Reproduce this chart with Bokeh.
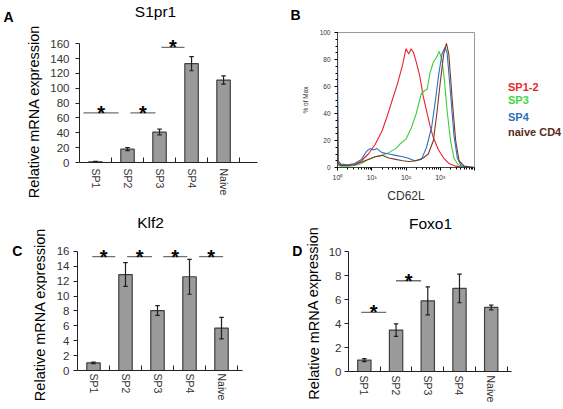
from bokeh.plotting import figure
from bokeh.models import Range1d, FixedTicker, Label, Legend, LegendItem
from bokeh.layouts import row, column
from bokeh.embed import file_html
from bokeh.resources import INLINE
from bokeh.core.properties import value

# ---------------- data ----------------
groups = ["SP1", "SP2", "SP3", "SP4", "Naive"]
group_pos = [0, 1, 2, 3, 4]
group_bounds = [0.5, 1.5, 2.5, 3.5, 4.5]

# Panel A : S1pr1
s1pr1_mean = [1.0, 17.9, 41.0, 133.0, 111.0]
s1pr1_err = [0.5, 2.0, 3.8, 9.5, 5.5]
s1pr1_ticks = [0, 20, 40, 60, 80, 100, 120, 140, 160]
s1pr1_sig_x0 = [-0.375, 1.09, 2.06]
s1pr1_sig_x1 = [0.72, 1.875, 2.78]
s1pr1_sig_y = [66.7, 66.7, 155.0]

# Panel C : Klf2
klf2_mean = [1.03, 12.9, 8.06, 12.6, 5.7]
klf2_err = [0.1, 1.6, 0.65, 2.35, 1.45]
klf2_ticks = [0, 2, 4, 6, 8, 10, 12, 14, 16]
klf2_sig_x0 = [-0.04, 1.05, 2.18, 3.3]
klf2_sig_x1 = [0.68, 1.83, 2.93, 4.05]
klf2_sig_y = [15.3, 15.3, 15.3, 15.3]

# Panel D : Foxo1
foxo1_mean = [0.95, 3.46, 5.9, 6.94, 5.35]
foxo1_err = [0.12, 0.52, 1.17, 1.2, 0.2]
foxo1_ticks = [0, 2, 4, 6, 8, 10]
foxo1_sig_x0 = [-0.1, 1.0]
foxo1_sig_x1 = [0.69, 1.79]
foxo1_sig_y = [4.93, 7.58]

# Panel B : CD62L histograms (log10 of CD62L, % of max)
red_log = [0.0, 0.02, 0.1, 0.3, 0.5, 0.7, 0.9, 1.1, 1.3, 1.45, 1.6, 1.75, 1.9, 2.0, 2.08, 2.15,
           2.22, 2.3, 2.4, 2.5, 2.6, 2.7, 2.8, 2.95, 3.1, 3.25, 3.45, 3.7, 4.0]
red_pct = [5, 3, 2, 1.5, 2, 5, 10, 17, 27, 38, 50, 62, 76, 88, 84, 88,
           85, 78, 68, 53, 42, 31, 22, 13, 7, 3, 1, 0, 0]
green_log = [0.0, 0.02, 0.1, 0.3, 0.5, 0.7, 0.9, 1.1, 1.3, 1.5, 1.7, 1.85, 2.0, 2.15, 2.3, 2.45,
             2.55, 2.62, 2.7, 2.8, 2.9, 2.97, 3.05, 3.12, 3.2, 3.3, 3.4, 3.52, 3.7, 4.0]
green_pct = [3, 1.5, 1, 1, 1.5, 3, 6, 8, 9, 11, 14, 18, 21, 29, 40, 55,
             57, 58, 70, 78, 82, 86, 80, 65, 42, 20, 7, 2, 0.5, 0]
blue_log = [0.0, 0.02, 0.1, 0.3, 0.5, 0.7, 0.85, 0.95, 1.05, 1.15, 1.3, 1.5, 1.7, 1.9, 2.05, 2.25,
            2.45, 2.6, 2.75, 2.85, 2.95, 3.05, 3.14, 3.2, 3.3, 3.4, 3.5, 3.62, 3.75, 4.0]
blue_pct = [92, 5, 2.5, 2, 3, 6, 12, 14, 13, 14, 11, 10, 9, 8, 7, 5,
            6, 15, 30, 48, 68, 84, 89, 85, 55, 24, 7, 1, 0.3, 0]
brown_log = [0.0, 0.02, 0.1, 0.3, 0.5, 0.7, 0.9, 1.1, 1.3, 1.5, 1.7, 1.9, 2.1, 2.3, 2.5, 2.65,
             2.8, 2.9, 3.0, 3.1, 3.18, 3.25, 3.35, 3.45, 3.55, 3.7, 4.0]
brown_pct = [45, 3, 1.5, 1.5, 2, 4, 6, 8, 9, 7, 6, 5, 4.5, 5, 7, 10,
             20, 40, 63, 84, 92, 84, 50, 20, 5, 1, 0]
hist_labels = ["SP1-2", "SP3", "SP4", "naive CD4"]
hist_ticks = [1, 10, 100, 1000, 10000]
hist_tick_labels = ["10\u2070", "10\u00b9", "10\u00b2", "10\u00b3", ""]
pct_ticks = [0, 20, 40, 60, 80, 100]

FONT = "Liberation Sans"
YLABEL = "Relative mRNA expression"


def text_fig(w, h):
    f = figure(width=w, height=h, x_range=Range1d(0, w), y_range=Range1d(0, h),
               output_backend="svg", toolbar_location=None,
               x_axis_location=None, y_axis_location=None,
               min_border=0, frame_align=False)
    f.grid.visible = False
    f.outline_line_color = None
    f.background_fill_color = "white"
    f.border_fill_color = "white"
    return f


def add_text(p, x, y, text, size, bold=False, angle=0.0, align="center", color="black"):
    p.add_layout(Label(x=x, y=y, text=text, text_font=FONT, text_font_size=size,
                       text_font_style="bold" if bold else "normal", angle=angle,
                       text_align=align, text_baseline="middle", text_color=color))


def bar_panel(w, h, borders, x_end, y_end, ticks, means, errs, sx0, sx1, sy,
              tick_standoff, xlab_standoff):
    l, r, t, b = borders
    p = figure(width=w, height=h, x_range=Range1d(-0.5, x_end), y_range=Range1d(0, y_end),
               output_backend="svg", toolbar_location=None, frame_align=False,
               min_border_left=l, min_border_right=r, min_border_top=t, min_border_bottom=b)
    p.outline_line_color = None
    p.grid.visible = False
    p.background_fill_color = "white"
    p.border_fill_color = "white"

    p.vbar(x=group_pos, top=means, width=0.42, bottom=0,
           fill_color="#9a9a9a", line_color="#404040", line_width=1.2)
    lo = [m - e for m, e in zip(means, errs)]
    hi = [m + e for m, e in zip(means, errs)]
    p.segment(x0=group_pos, y0=lo, x1=group_pos, y1=hi, line_color="#202020", line_width=1.2)
    cap = 0.07
    p.segment(x0=[x - cap for x in group_pos], y0=hi, x1=[x + cap for x in group_pos], y1=hi,
              line_color="#202020", line_width=1.2)
    p.segment(x0=[x - cap for x in group_pos], y0=lo, x1=[x + cap for x in group_pos], y1=lo,
              line_color="#202020", line_width=1.2)

    # significance bars and stars
    p.segment(x0=sx0, y0=sy, x1=sx1, y1=sy, line_color="#707070", line_width=1.3)
    mids = [(a + c) / 2 for a, c in zip(sx0, sx1)]
    p.text(x=mids, y=sy, text=["*"] * len(mids), text_font=value(FONT), text_font_style="bold",
           text_font_size="20px", text_align="center", text_baseline="middle",
           text_color="black")

    xa = p.xaxis[0]
    xa.ticker = FixedTicker(ticks=group_pos, minor_ticks=group_bounds)
    xa.major_label_overrides = {i: g for i, g in zip(group_pos, groups)}
    xa.major_tick_line_color = None
    xa.major_tick_in = 0
    xa.major_tick_out = 0
    xa.minor_tick_in = 5
    xa.minor_tick_out = 0
    xa.minor_tick_line_color = "#222222"
    xa.axis_line_color = "#222222"
    xa.major_label_orientation = "vertical"
    xa.major_label_standoff = xlab_standoff
    xa.major_label_text_font = FONT
    xa.major_label_text_font_size = "10.5px"
    xa.major_label_text_color = "#333333"

    ya = p.yaxis[0]
    ya.ticker = FixedTicker(ticks=ticks)
    ya.bounds = (ticks[0], ticks[-1])
    ya.major_tick_in = 0
    ya.major_tick_out = 4
    ya.minor_tick_line_color = None
    ya.axis_line_color = "#222222"
    ya.major_tick_line_color = "#222222"
    ya.major_label_standoff = tick_standoff
    ya.major_label_text_font = FONT
    ya.major_label_text_font_size = "11.5px"
    ya.major_label_text_color = "#333333"
    return p


# ---------------- panel A (x 0-280, y 0-200) ----------------
stripA = text_fig(45, 200)
add_text(stripA, 3, 184, "A", "14px", bold=True, align="left")
add_text(stripA, 33.3, 89, YLABEL, "14.5px", angle=1.5708)
headA = text_fig(235, 24)
add_text(headA, 110, 13, "S1pr1", "15.5px")
pA = bar_panel(235, 176, (34, 23, 8, 38), 5.06, 175, s1pr1_ticks, s1pr1_mean, s1pr1_err,
               s1pr1_sig_x0, s1pr1_sig_x1, s1pr1_sig_y, 6, 6)

# ---------------- panel C (x 0-280, y 200-408) ----------------
stripC = text_fig(47, 208)
add_text(stripC, 11.7, 157.7, "C", "14px", bold=True, align="left")
add_text(stripC, 39.3, 94, YLABEL, "14.5px", angle=1.5708)
headC = text_fig(233, 32)
add_text(headC, 103, 10, "Klf2", "15.5px")
pC = bar_panel(233, 176, (30, 38, 7, 38), 4.656, 17.61, klf2_ticks, klf2_mean, klf2_err,
               klf2_sig_x0, klf2_sig_x1, klf2_sig_y, 4, 3)

# ---------------- panel D (x 280-562, y 205-408) ----------------
stripD = text_fig(44, 203)
add_text(stripD, 11.7, 157.7, "D", "14px", bold=True, align="left")
add_text(stripD, 33, 95.5, YLABEL, "14.5px", angle=1.5708)
headD = text_fig(238, 28)
add_text(headD, 106, 10, "Foxo1", "15.5px")
pD = bar_panel(238, 175, (24, 51, 7, 37), 4.64, 10.94, foxo1_ticks, foxo1_mean, foxo1_err,
               foxo1_sig_x0, foxo1_sig_x1, foxo1_sig_y, 3, 4)

# ---------------- panel B (x 280-562, y 0-205) ----------------
headB = text_fig(282, 24)
add_text(headB, 10, 10, "B", "14px", bold=True, align="left")

pB = figure(width=208, height=181, x_axis_type="log", x_range=Range1d(1, 10000),
            y_range=Range1d(0, 100), output_backend="svg", toolbar_location=None,
            frame_align=False,
            min_border_left=57, min_border_right=14, min_border_top=8, min_border_bottom=35)
pB.grid.visible = False
pB.outline_line_color = "#9a9a9a"
pB.outline_line_width = 1

curve_colors = ["#e8232a", "#3ccc3c", "#2d6fc4", "#7a3b22"]
for lg, pc, col in zip([red_log, green_log, blue_log, brown_log],
                       [red_pct, green_pct, blue_pct, brown_pct], curve_colors):
    pB.line(x=[10 ** v for v in lg], y=pc, line_color=col, line_width=1.1)

bx = pB.xaxis[0]
bx.ticker = FixedTicker(ticks=hist_ticks,
                        minor_ticks=[m * 10 ** d for d in range(4) for m in range(2, 10)])
bx.major_label_overrides = {t: s for t, s in zip(hist_ticks, hist_tick_labels)}
bx.major_tick_in = 0
bx.major_tick_out = 3
bx.minor_tick_in = 0
bx.minor_tick_out = 2
bx.major_label_standoff = 3
bx.major_label_text_font = FONT
bx.major_label_text_font_size = "7px"
bx.major_label_text_color = "#333333"
bx.axis_line_color = "#444444"
bx.axis_label = "CD62L"
bx.axis_label_text_font = FONT
bx.axis_label_text_font_size = "12px"
bx.axis_label_text_font_style = "normal"
bx.axis_label_text_color = "#333333"
bx.axis_label_standoff = 5

by = pB.yaxis[0]
by.ticker = FixedTicker(ticks=pct_ticks, minor_ticks=list(range(0, 101, 5)))
by.major_tick_in = 0
by.major_tick_out = 3
by.minor_tick_in = 0
by.minor_tick_out = 2
by.major_label_standoff = 4
by.major_label_text_font = FONT
by.major_label_text_font_size = "6.5px"
by.major_label_text_color = "#333333"
by.axis_line_color = "#444444"
by.axis_label = "% of Max"
by.axis_label_text_font = FONT
by.axis_label_text_font_size = "6.5px"
by.axis_label_text_font_style = "normal"
by.axis_label_text_color = "#333333"
by.axis_label_standoff = 8

# legend strip to the right of the histogram
legB = text_fig(74, 181)
legend_colors = ["#e32b2b", "#3fd83f", "#2f6fbf", "#5a2a22"]
legend_bottoms = [112, 99, 82, 67]
for lab, col, yb in zip(hist_labels, legend_colors, legend_bottoms):
    key = legB.line(x=[], y=[], line_color=col, line_width=1.6)
    lgd = Legend(items=[LegendItem(label=lab, renderers=[key])], location=(5, yb),
                 glyph_width=10, glyph_height=12, label_height=12, label_width=10,
                 label_standoff=5, padding=0, margin=0, spacing=0,
                 border_line_color=None, background_fill_alpha=0,
                 label_text_color=col, label_text_font=FONT, label_text_font_style="bold",
                 label_text_font_size="11px")
    legB.add_layout(lgd)

left_col = column(row(stripA, column(headA, pA)), row(stripC, column(headC, pC)))
right_col = column(headB, row(pB, legB), row(stripD, column(headD, pD)))
layout = row(left_col, right_col)
open("out.html", "w").write(file_html(layout, INLINE))
